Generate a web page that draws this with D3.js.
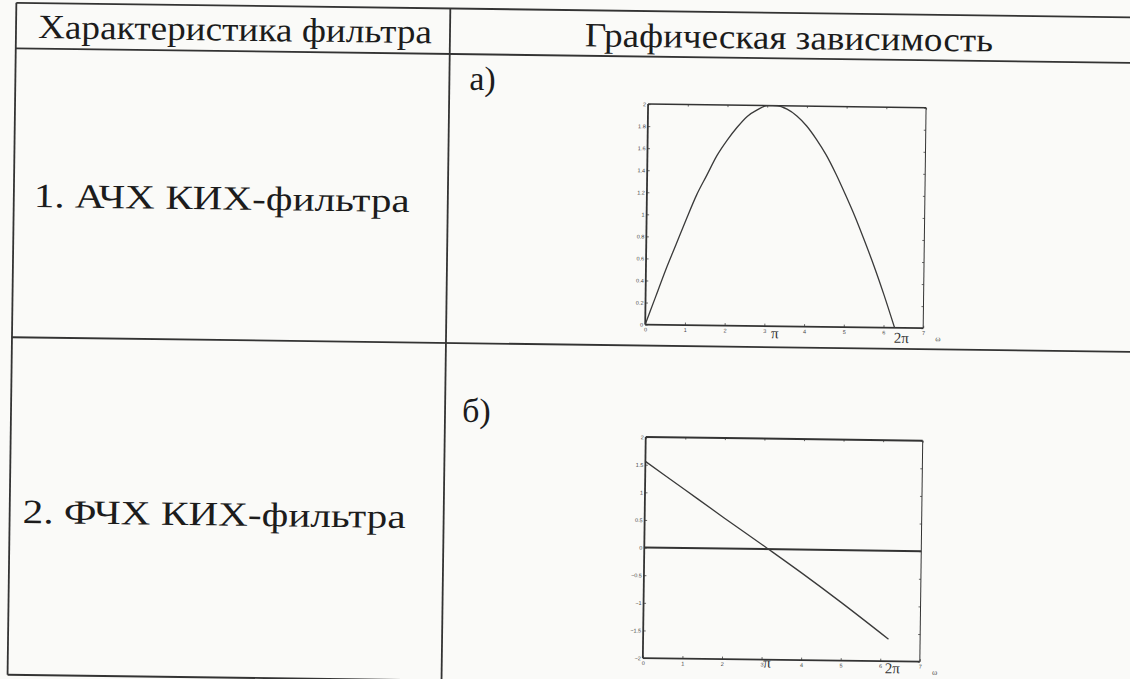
<!DOCTYPE html>
<html>
<head>
<meta charset="utf-8">
<script src="https://cdn.jsdelivr.net/npm/d3@7"></script>
<style>
  body { margin: 0; background: #fafaf8; }
  svg { display: block; }
</style>
</head>
<body>
<svg id="chart" width="1130" height="679"></svg>
<script>
// --- data ---
var headers = ["Характеристика фильтра", "Графическая зависимость"];
var rowLabels = ["1. АЧХ КИХ-фильтра", "2. ФЧХ КИХ-фильтра"];
var panelLetters = ["а)", "б)"];

var xTicks = [0, 1, 2, 3, 4, 5, 6, 7];
var ampTicks = [0, 0.2, 0.4, 0.6, 0.8, 1, 1.2, 1.4, 1.6, 1.8, 2];
var phaseTicks = [-2, -1.5, -1, -0.5, 0, 0.5, 1, 1.5, 2];

// АЧХ curve (omega, |H|)
var ampOmega  = [0, 0.25, 0.5, 0.75, 1, 1.25, 1.5, 1.75, 2, 2.25, 2.5, 2.75, 3, 3.14,
                 3.25, 3.5, 3.75, 4, 4.25, 4.5, 4.75, 5, 5.25, 5.5, 5.75, 6, 6.28];
var ampValues = [0, 0.25, 0.5, 0.73, 0.96, 1.18, 1.36, 1.54, 1.68, 1.8, 1.9, 1.96, 2, 2,
                 2, 1.97, 1.91, 1.82, 1.7, 1.56, 1.39, 1.2, 1.0, 0.78, 0.55, 0.3, 0];

// ФЧХ line (omega, phase)
var phaseOmega  = [0, 1, 2, 3.14, 4, 5, 6.2];
var phaseValues = [1.56, 1.06, 0.56, 0, -0.43, -0.95, -1.6];

var piLabels = ["π", "2π"];
var piOmega = [3.14, 6.28];
var axisName = "ω";

// --- layout (unrotated page coordinates) ---
var W = 1130, H = 679;
var tbl = { left: 12, right: 1140, top: 10, head: 55.5, mid: 344.5, bottom: 682, col: 446 };
var ink = "#1c1c1c";
var serif = "'Liberation Serif', 'Times New Roman', serif";

var svg = d3.select("#chart");
svg.append("rect").attr("width", W).attr("height", H).attr("fill", "#fafaf8");

// the scan is slightly rotated
var page = svg.append("g").attr("transform", "rotate(0.75," + W / 2 + "," + H / 2 + ")");

// table grid
var gridLines = [
  [tbl.left, tbl.top, tbl.right, tbl.top],
  [tbl.left, tbl.head, tbl.right, tbl.head],
  [tbl.left, tbl.mid, tbl.right, tbl.mid],
  [tbl.left, tbl.bottom, tbl.right, tbl.bottom],
  [tbl.left, tbl.top, tbl.left, tbl.bottom],
  [tbl.col, tbl.top, tbl.col, tbl.bottom]
];
page.append("g").selectAll("line")
  .data(gridLines)
  .enter().append("line")
    .attr("x1", function(d) { return d[0]; })
    .attr("y1", function(d) { return d[1]; })
    .attr("x2", function(d) { return d[2]; })
    .attr("y2", function(d) { return d[3]; })
    .attr("stroke", "#333")
    .attr("stroke-width", 1.8);

function bigText(str, x, y, len) {
  var t = page.append("text")
    .attr("x", x).attr("y", y)
    .style("font-family", serif)
    .style("font-size", "34px")
    .attr("fill", ink)
    .text(str);
  if (len) t.attr("textLength", len).attr("lengthAdjust", "spacingAndGlyphs");
  return t;
}

bigText(headers[0], 34, 45, 394);
bigText(headers[1], 581, 46, 408);
bigText(rowLabels[0], 32, 214, 376);
bigText(rowLabels[1], 25, 530, 383);
bigText(panelLetters[0], 466, 91);
bigText(panelLetters[1], 463, 423);

// --- charts ---
function drawChart(o) {
  var x = d3.scaleLinear().domain([0, 7]).range([o.left, o.right]);
  var y = d3.scaleLinear().domain(o.yDomain).range([o.bottom, o.top]);
  var c = page.append("g");
  var fmt = d3.format("~g");

  function styleAxis(sel) {
    sel.select(".domain").remove();
    sel.selectAll(".tick line").attr("stroke", "#444").attr("stroke-width", 0.8);
    sel.selectAll(".tick text")
      .style("font-family", "'Liberation Sans', Arial, sans-serif")
      .style("font-size", "5.5px")
      .attr("fill", "#444");
  }

  c.append("g")
    .attr("transform", "translate(0," + o.bottom + ")")
    .call(d3.axisBottom(x).tickValues(xTicks).tickSizeInner(-2.5).tickSizeOuter(0).tickPadding(3).tickFormat(fmt))
    .call(styleAxis);
  c.append("g")
    .attr("transform", "translate(0," + o.top + ")")
    .call(d3.axisTop(x).tickValues(xTicks).tickSizeInner(-2).tickSizeOuter(0).tickFormat(""))
    .call(styleAxis);
  c.append("g")
    .attr("transform", "translate(" + o.left + ",0)")
    .call(d3.axisLeft(y).tickValues(o.yTicks).tickSizeInner(-2.5).tickSizeOuter(0).tickPadding(2).tickFormat(fmt))
    .call(styleAxis);
  c.append("g")
    .attr("transform", "translate(" + o.right + ",0)")
    .call(d3.axisRight(y).tickValues(o.yTicks).tickSizeInner(-2).tickSizeOuter(0).tickFormat(""))
    .call(styleAxis);

  // frame
  var frame = [
    { x1: o.left, y1: o.top, x2: o.right, y2: o.top, w: o.topW },
    { x1: o.left, y1: o.bottom, x2: o.right, y2: o.bottom, w: 1.8 },
    { x1: o.left, y1: o.top, x2: o.left, y2: o.bottom, w: 1.8 },
    { x1: o.right, y1: o.top, x2: o.right, y2: o.bottom, w: 1 }
  ];
  if (o.zeroLine) frame.push({ x1: o.left, y1: y(0), x2: o.right, y2: y(0), w: 2 });
  c.selectAll("line.frame")
    .data(frame)
    .enter().append("line")
      .attr("class", "frame")
      .attr("x1", function(d) { return d.x1; })
      .attr("y1", function(d) { return d.y1; })
      .attr("x2", function(d) { return d.x2; })
      .attr("y2", function(d) { return d.y2; })
      .attr("stroke", "#333")
      .attr("stroke-width", function(d) { return d.w; });

  var line = d3.line()
    .x(function(d) { return x(d[0]); })
    .y(function(d) { return y(d[1]); })
    .curve(d3.curveMonotoneX);

  c.append("path")
    .datum(d3.zip(o.xs, o.ys))
    .attr("d", line)
    .attr("fill", "none")
    .attr("stroke", "#3a3a3a")
    .attr("stroke-width", 1.3);

  // hand-written π marks
  c.selectAll("text.pi")
    .data(piLabels)
    .enter().append("text")
      .attr("class", "pi")
      .attr("x", function(d, i) { return x(piOmega[i]) + o.piDx[i]; })
      .attr("y", function(d, i) { return o.bottom + o.piDy[i]; })
      .attr("text-anchor", "middle")
      .style("font-family", serif)
      .style("font-size", "15px")
      .attr("fill", "#333")
      .text(function(d) { return d; });

  c.append("text")
    .attr("x", o.right + 15)
    .attr("y", o.bottom + 13)
    .attr("text-anchor", "middle")
    .style("font-family", serif)
    .style("font-size", "8px")
    .attr("fill", "#555")
    .text(axisName);
}

drawChart({
  left: 645, right: 923, top: 103, bottom: 323.5,
  yDomain: [0, 2], yTicks: ampTicks, topW: 1.5,
  xs: ampOmega, ys: ampValues,
  piDx: [5, 7], piDy: [12, 15]
});

drawChart({
  left: 647, right: 924, top: 436, bottom: 657,
  yDomain: [-2, 2], yTicks: phaseTicks, topW: 2, zeroLine: true,
  xs: phaseOmega, ys: phaseValues,
  piDx: [0, 1], piDy: [8, 12]
});
</script>
</body>
</html>
